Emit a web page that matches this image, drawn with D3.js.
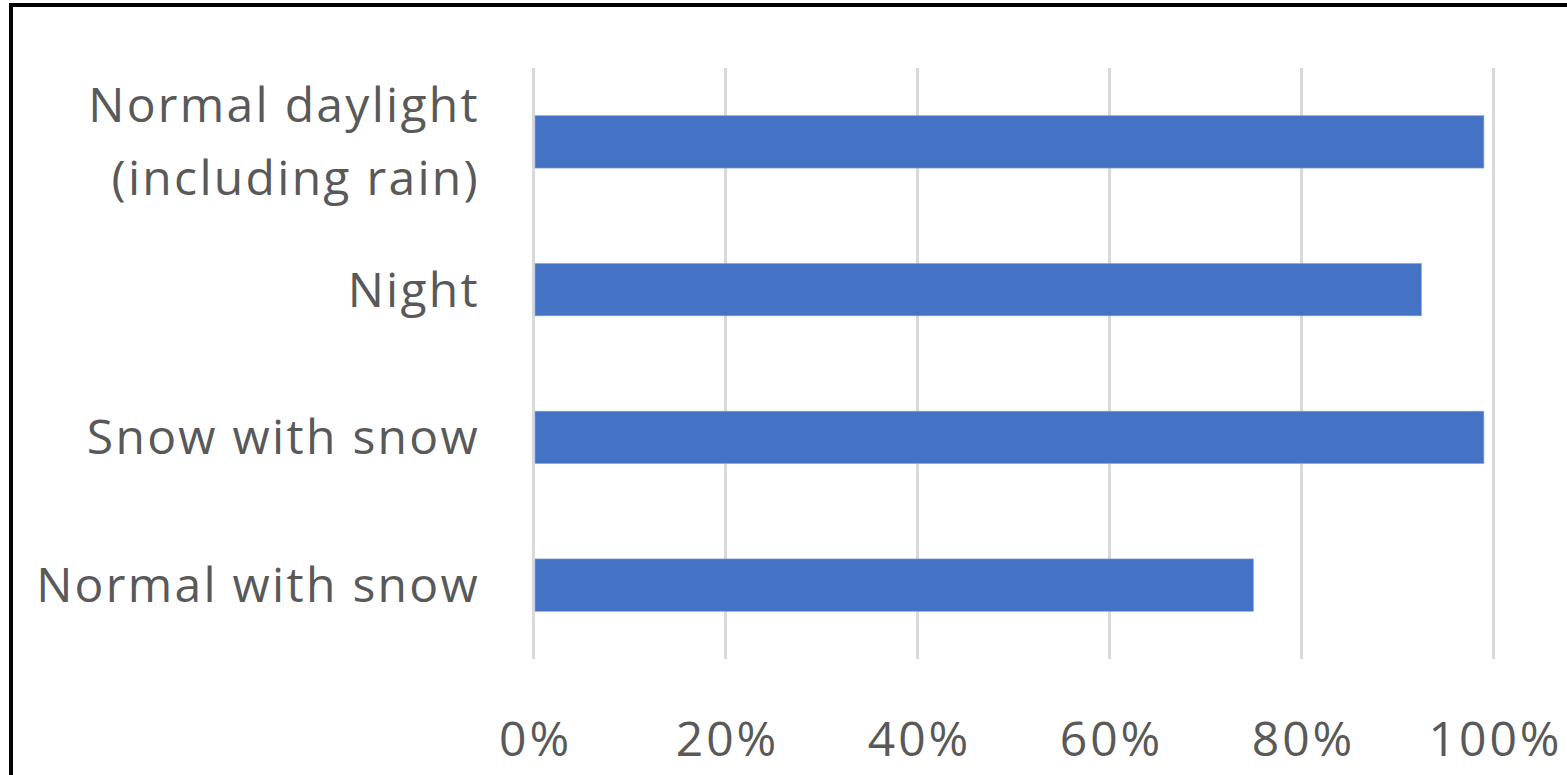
<!DOCTYPE html>
<html>
<head>
<meta charset="utf-8">
<script src="https://cdn.jsdelivr.net/npm/d3@7"></script>
<style>
body{margin:0;background:#fff;}
svg{display:block;}
</style>
</head>
<body>
<svg id="chart" width="1567" height="775"></svg>
<script>
// categories, top to bottom (each entry is the lines of the label)
var categories=[["Normal daylight","(including rain)"],["Night"],["Snow with snow"],["Normal with snow"]];
var values=[0.99,0.925,0.99,0.75];	//share per category
var ticks=[0,0.2,0.4,0.6,0.8,1.0];

var W=1567,H=775;
var plotL=533.5,plotR=1493.5,plotT=68,plotB=659; // "top" is taken by window.top
var font="'Open Sans', Lato, sans-serif";

var svg=d3.select("#chart");

// frame - only left and top edges are in the picture
svg.append("line").attr("x1",11).attr("x2",11).attr("y1",3).attr("y2",H).attr("stroke","#000").attr("stroke-width",4);
svg.append("line").attr("x1",9).attr("x2",W).attr("y1",5).attr("y2",5).attr("stroke","#000").attr("stroke-width",4);

var x=d3.scaleLinear().domain([0,1]).range([plotL,plotR]);
var y=d3.scaleBand().domain(d3.range(categories.length)).range([plotT,plotB]).paddingInner(0.645).paddingOuter(0.3225);

// vertical gridlines
svg.append("g").selectAll("line").data(ticks).enter().append("line")
	.attr("x1",function(d){return x(d);}).attr("x2",function(d){return x(d);})
	.attr("y1",plotT).attr("y2",plotB)
	.attr("stroke","#d9d9d9").attr("stroke-width",3);

// bars
svg.append("g").selectAll("rect").data(values).enter().append("rect")
	.attr("x",x(0)+1.5)
	.attr("y",function(d,i){return y(i);})
	.attr("width",function(d){return x(d)-x(0)-1.5;})
	.attr("height",y.bandwidth())
	.attr("fill","#4472c4")
	.attr("stroke","#8faadc").attr("stroke-width",0.6);

// x axis tick labels
var xAxis=d3.axisBottom(x).tickValues(ticks).tickFormat(d3.format(".0%")).tickSize(0).tickPadding(0);
var gx=svg.append("g").attr("transform","translate(1.5,"+plotB+")").call(xAxis);
gx.select(".domain").remove();
gx.selectAll("text").attr("dy",null).attr("y",97)
	.style("font-family",font).style("font-size","48px").style("letter-spacing","3px").style("fill","#595959");

// category labels, block of lines centered on the band
var lineH=73;
var lab=svg.append("g").selectAll("text").data(categories).enter().append("text")
	.attr("text-anchor","end")
	.style("font-family",font).style("font-size","48px").style("letter-spacing","2.3px").style("fill","#595959");
lab.each(function(lines,i){
	var c=y(i)+y.bandwidth()/2;
	var first=c-lines.length*lineH/2+53.5;
	d3.select(this).selectAll("tspan").data(lines).enter().append("tspan")
		.attr("x",480)
		.attr("y",function(d,k){return first+k*lineH;})
		.text(function(d){return d;});
});
</script>
</body>
</html>
